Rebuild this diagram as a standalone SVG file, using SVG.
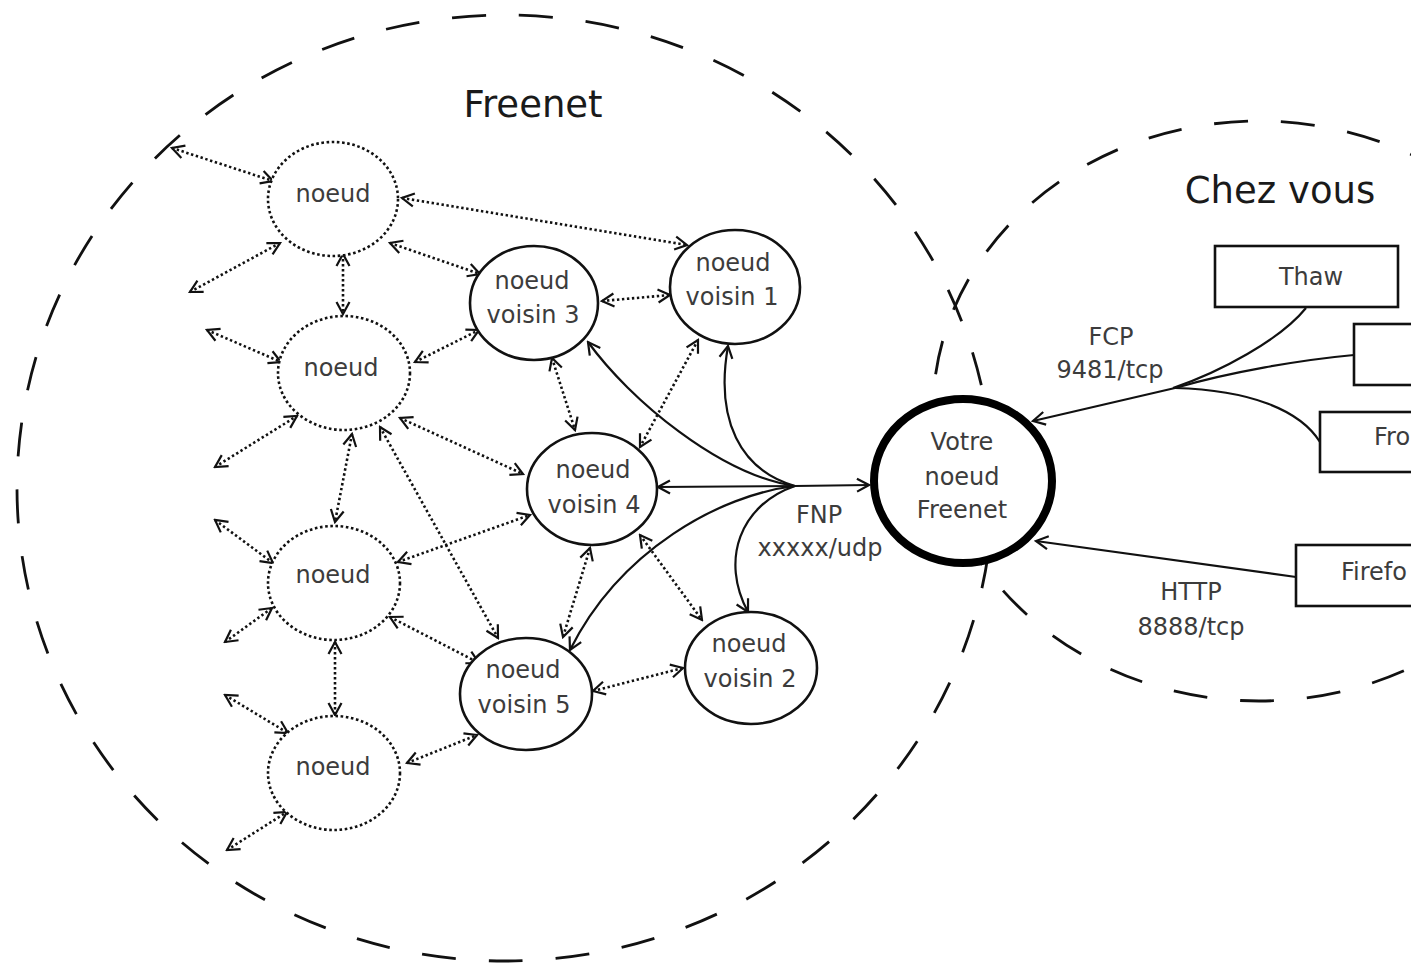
<svg xmlns="http://www.w3.org/2000/svg" width="1411" height="965" viewBox="0 0 1411 965">
<defs>
<style>
.bg{fill:#fff}
.region{fill:none;stroke:#111;stroke-width:2.8;stroke-dasharray:34 33}
.title{font-family:"DejaVu Sans",sans-serif;font-size:37px;fill:#1a1a1a;text-anchor:middle}
.lbl{font-family:"DejaVu Sans",sans-serif;font-size:24px;fill:#3c3c3c;text-anchor:middle}
.dotnode{fill:#fff;stroke:#111;stroke-width:2.6;stroke-dasharray:2.6 2.6}
.node{fill:#fff;stroke:#111;stroke-width:2.6}
.main{fill:#fff;stroke:#000;stroke-width:8}
.box{fill:#fff;stroke:#111;stroke-width:2.6}
.dl{fill:none;stroke:#111;stroke-width:2.6;stroke-dasharray:2.4 2.6;marker-start:url(#ah);marker-end:url(#ah)}
.sl{fill:none;stroke:#111;stroke-width:2.2}
.sa{marker-end:url(#ah)}
</style>
<marker id="ah" viewBox="0 0 16 16" refX="14" refY="8" markerWidth="16" markerHeight="16" markerUnits="userSpaceOnUse" orient="auto-start-reverse">
<path d="M2,1.5 L14,8 L2,14.5" fill="none" stroke="#111" stroke-width="2.2" stroke-dasharray="none"/>
</marker>
</defs>
<rect class="bg" x="0" y="0" width="1411" height="965"/>

<g id="region-freenet">
<ellipse class="region" cx="505" cy="488" rx="488" ry="473"/>
<text class="title" x="533" y="117">Freenet</text>
</g>
<g id="region-chezvous">
<ellipse class="region" cx="1259" cy="411" rx="326" ry="290"/>
<text class="title" x="1280" y="203">Chez vous</text>
</g>

<g id="connectors">
<line class="dl" x1="172" y1="148" x2="273" y2="181"/>
<line class="dl" x1="190" y1="292" x2="280" y2="243"/>
<line class="dl" x1="343" y1="254" x2="343" y2="314"/>
<line class="dl" x1="402" y1="198" x2="687" y2="245"/>
<line class="dl" x1="390" y1="243" x2="480" y2="274"/>
<line class="dl" x1="207" y1="330" x2="281" y2="362"/>
<line class="dl" x1="215" y1="467" x2="297" y2="416"/>
<line class="dl" x1="400" y1="418" x2="523" y2="474"/>
<line class="dl" x1="352" y1="434" x2="335" y2="522"/>
<line class="dl" x1="380" y1="427" x2="498" y2="638"/>
<line class="dl" x1="415" y1="362" x2="479" y2="330"/>
<line class="dl" x1="602" y1="301" x2="670" y2="295"/>
<line class="dl" x1="552" y1="358" x2="575" y2="430"/>
<line class="dl" x1="698" y1="340" x2="640" y2="447"/>
<line class="dl" x1="215" y1="520" x2="273" y2="563"/>
<line class="dl" x1="225" y1="642" x2="272" y2="608"/>
<line class="dl" x1="398" y1="562" x2="530" y2="515"/>
<line class="dl" x1="390" y1="617" x2="479" y2="663"/>
<line class="dl" x1="335" y1="642" x2="335" y2="715"/>
<line class="dl" x1="590" y1="548" x2="563" y2="637"/>
<line class="dl" x1="640" y1="535" x2="702" y2="620"/>
<line class="dl" x1="593" y1="691" x2="683" y2="668"/>
<line class="dl" x1="225" y1="695" x2="288" y2="733"/>
<line class="dl" x1="227" y1="850" x2="287" y2="812"/>
<line class="dl" x1="407" y1="763" x2="477" y2="735"/>

<path class="sl sa" d="M795,486 C720,475 630,400 588,342"/>
<path class="sl sa" d="M795,486 C740,470 715,420 728,346"/>
<path class="sl sa" d="M795,486 L658,487"/>
<path class="sl sa" d="M795,486 L869,485"/>
<path class="sl sa" d="M795,486 C720,495 620,550 570,650"/>
<path class="sl sa" d="M795,486 C740,505 720,560 748,612"/>

<path class="sl" d="M1306,308 C1280,340 1220,372 1173,388"/>
<path class="sl" d="M1354,355 C1300,360 1230,372 1175,388"/>
<path class="sl" d="M1320,442 C1300,410 1250,390 1175,388"/>
<path class="sl sa" d="M1175,388 L1033,421"/>
<path class="sl sa" d="M1296,577 L1036,541"/>

<text class="lbl" x="819" y="523">FNP</text>
<text class="lbl" x="820" y="556">xxxxx/udp</text>
<text class="lbl" x="1111" y="345">FCP</text>
<text class="lbl" x="1110" y="378">9481/tcp</text>
<text class="lbl" x="1191" y="600">HTTP</text>
<text class="lbl" x="1191" y="635">8888/tcp</text>
</g>

<g id="node-a">
<ellipse class="dotnode" cx="333" cy="199" rx="65" ry="57"/>
<text class="lbl" x="333" y="202">noeud</text>
</g>
<g id="node-b">
<ellipse class="dotnode" cx="344" cy="373" rx="66" ry="57"/>
<text class="lbl" x="341" y="376">noeud</text>
</g>
<g id="node-c">
<ellipse class="dotnode" cx="334" cy="583" rx="66" ry="57"/>
<text class="lbl" x="333" y="583">noeud</text>
</g>
<g id="node-d">
<ellipse class="dotnode" cx="334" cy="773" rx="66" ry="57"/>
<text class="lbl" x="333" y="775">noeud</text>
</g>

<g id="voisin-3">
<ellipse class="node" cx="534" cy="303" rx="64" ry="57"/>
<text class="lbl" x="532" y="289">noeud</text>
<text class="lbl" x="533" y="323">voisin 3</text>
</g>
<g id="voisin-1">
<ellipse class="node" cx="735" cy="287" rx="65" ry="57"/>
<text class="lbl" x="733" y="271">noeud</text>
<text class="lbl" x="732" y="305">voisin 1</text>
</g>
<g id="voisin-4">
<ellipse class="node" cx="592" cy="489" rx="65" ry="56"/>
<text class="lbl" x="593" y="478">noeud</text>
<text class="lbl" x="594" y="513">voisin 4</text>
</g>
<g id="voisin-5">
<ellipse class="node" cx="526" cy="694" rx="66" ry="56"/>
<text class="lbl" x="523" y="678">noeud</text>
<text class="lbl" x="524" y="713">voisin 5</text>
</g>
<g id="voisin-2">
<ellipse class="node" cx="751" cy="668" rx="66" ry="56"/>
<text class="lbl" x="749" y="652">noeud</text>
<text class="lbl" x="750" y="687">voisin 2</text>
</g>

<g id="votre-noeud">
<ellipse class="main" cx="963" cy="481" rx="89" ry="82"/>
<text class="lbl" x="962" y="450">Votre</text>
<text class="lbl" x="962" y="485">noeud</text>
<text class="lbl" x="962" y="518">Freenet</text>
</g>

<g id="box-thaw">
<rect class="box" x="1215" y="246" width="183" height="61"/>
<text class="lbl" x="1311" y="285">Thaw</text>
</g>
<g id="box-2">
<rect class="box" x="1354" y="324" width="200" height="61"/>
</g>
<g id="box-frost">
<rect class="box" x="1320" y="412" width="200" height="60"/>
<text class="lbl" x="1374" y="445" style="text-anchor:start">Fro</text>
</g>
<g id="box-firefox">
<rect class="box" x="1296" y="545" width="200" height="61"/>
<text class="lbl" x="1341" y="580" style="text-anchor:start">Firefo</text>
</g>
</svg>
